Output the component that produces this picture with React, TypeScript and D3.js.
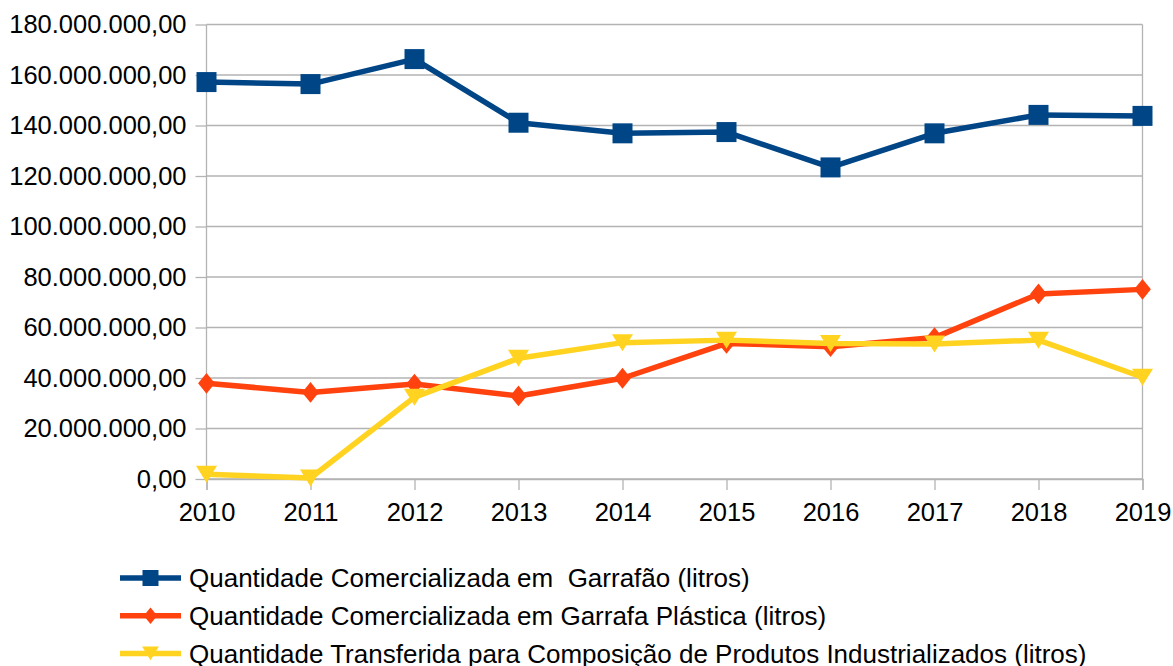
import { useEffect, useRef } from "react";
import { axisBottom, axisLeft, line, scaleLinear, scalePoint, select } from "d3";

const years = ["2010", "2011", "2012", "2013", "2014", "2015", "2016", "2017", "2018", "2019"];

const garrafao = [157.2e6, 156.4e6, 166.3e6, 141.1e6, 136.9e6, 137.4e6, 123.4e6, 136.9e6, 144.2e6, 143.8e6];
const garrafaPlastica = [37.9e6, 34.3e6, 37.6e6, 32.9e6, 39.9e6, 53.7e6, 52.4e6, 56.0e6, 73.3e6, 75.1e6];
const transferida = [1.9e6, 0.4e6, 32.4e6, 47.8e6, 54.0e6, 55.0e6, 53.7e6, 53.5e6, 55.0e6, 40.3e6];

const seriesNames = [
  "Quantidade Comercializada em  Garrafão (litros)",
  "Quantidade Comercializada em Garrafa Plástica (litros)",
  "Quantidade Transferida para Composição de Produtos Industrializados (litros)",
];

const yTicks = [0, 20e6, 40e6, 60e6, 80e6, 100e6, 120e6, 140e6, 160e6, 180e6];

const W = 1173;
const H = 666;
const margin = { top: 24.5, right: 30.5, bottom: 187, left: 206.5 };
const FONT = "'Liberation Sans', Arial, sans-serif";
const FS = 25.5;
const LEGEND_FS = 26;

const fmt = (v: number) => {
  const s = Math.round(v).toString().replace(/\B(?=(\d{3})+(?!\d))/g, ".");
  return s + ",00";
};

const series = [
  { name: seriesNames[0], values: garrafao, color: "#004586", shape: "square" },
  { name: seriesNames[1], values: garrafaPlastica, color: "#ff420e", shape: "diamond" },
  { name: seriesNames[2], values: transferida, color: "#ffd320", shape: "triangle" },
];

function markerPath(shape: string, size: number) {
  const w = size / 2;
  if (shape === "square") return `M${-w},${-w}H${w}V${w}H${-w}Z`;
  if (shape === "diamond") {
    const hw = size * 0.42;
    const hh = size * 0.52;
    return `M0,${-hh}L${hw},0L0,${hh}L${-hw},0Z`;
  }
  const h = size * 0.85;
  return `M${-w * 1.05},${-h / 2}L${w * 1.05},${-h / 2}L0,${h / 2}Z`;
}

export default function App() {
  const xRef = useRef<SVGGElement>(null);
  const yRef = useRef<SVGGElement>(null);

  const innerW = W - margin.left - margin.right;
  const innerH = H - margin.top - margin.bottom;

  const x = scalePoint<string>().domain(years).range([0, innerW]);
  const y = scaleLinear().domain([0, 180e6]).range([innerH, 0]);

  const lineGen = line<number>()
    .x((_, i) => x(years[i])!)
    .y((d) => y(d));

  useEffect(() => {
    if (xRef.current) {
      const g = select(xRef.current);
      g.call(axisBottom(x).tickSize(11).tickPadding(13));
      g.select(".domain").attr("stroke", "#b3b3b3").attr("stroke-width", 1.3);
      g.selectAll(".tick line").attr("stroke", "#b3b3b3").attr("stroke-width", 1.3);
      g.selectAll(".tick text")
        .attr("font-family", FONT)
        .attr("font-size", FS)
        .attr("fill", "#000");
    }
    if (yRef.current) {
      const g = select(yRef.current);
      g.call(axisLeft(y).tickValues(yTicks).tickFormat((d) => fmt(d as number)).tickSize(11).tickPadding(9));
      g.select(".domain").remove();
      g.selectAll(".tick line").attr("stroke", "#b3b3b3").attr("stroke-width", 1.3);
      g.selectAll(".tick text")
        .attr("font-family", FONT)
        .attr("font-size", FS)
        .attr("fill", "#000");
    }
  }, []);

  return (
    <svg width={W} height={H} style={{ position: "absolute", left: 0, top: 0, background: "#fff" }}>
      <g transform={`translate(${margin.left}, ${margin.top})`}>
        {yTicks.map((t) => (
          <line key={`grid-${t}`} x1={0} x2={innerW} y1={y(t)} y2={y(t)} stroke="#b3b3b3" strokeWidth={1.3} />
        ))}
        <line x1={0} x2={0} y1={0} y2={innerH} stroke="#b3b3b3" strokeWidth={1.3} />
        <line x1={innerW} x2={innerW} y1={0} y2={innerH} stroke="#b3b3b3" strokeWidth={1.3} />
        <g ref={yRef} />
        <g ref={xRef} transform={`translate(0, ${innerH})`} />
        {series.map((s) => (
          <g key={s.name}>
            <path d={lineGen(s.values)!} fill="none" stroke={s.color} strokeWidth={5.5} strokeLinejoin="round" />
            {s.values.map((v, i) => (
              <path
                key={i}
                d={markerPath(s.shape, 20)}
                transform={`translate(${x(years[i])}, ${y(v)})`}
                fill={s.color}
              />
            ))}
          </g>
        ))}
      </g>
      <g>
        {series.map((s, i) => {
          const cy = 578 + i * 37.7;
          return (
            <g key={`leg-${s.name}`}>
              <line x1={120} x2={181} y1={cy} y2={cy} stroke={s.color} strokeWidth={5.5} />
              <path d={markerPath(s.shape, 16)} transform={`translate(150.5, ${cy})`} fill={s.color} />
              <text
                x={189}
                y={cy}
                dy="0.35em"
                fontFamily={FONT}
                fontSize={LEGEND_FS}
                fill="#000"
                style={{ whiteSpace: "pre" }}
              >
                {s.name}
              </text>
            </g>
          );
        })}
      </g>
    </svg>
  );
}
